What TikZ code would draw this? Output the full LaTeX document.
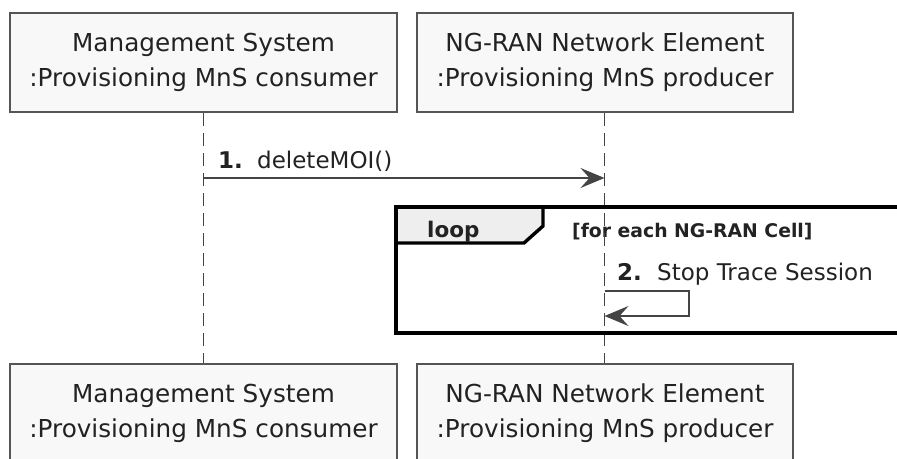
\documentclass[tikz,border=0pt]{standalone}
\usepackage{fontspec}
\setmainfont{DejaVu Sans}
\usetikzlibrary{arrows.meta}
\definecolor{boxfill}{HTML}{F8F8F8}
\definecolor{boxdraw}{HTML}{555555}
\definecolor{tabfill}{HTML}{EEEEEE}
\definecolor{txt}{HTML}{222222}
\definecolor{msgline}{HTML}{444444}
\tikzset{
  partbox/.style={draw=boxdraw, fill=boxfill, line width=2pt, align=center,
    text=txt, font=\fontsize{24.7}{35}\selectfont, inner sep=0pt},
  lifeline/.style={draw=msgline, line width=1.6pt, dash pattern=on 13pt off 7pt},
  msg/.style={draw=msgline, line width=1.6pt, -{Stealth[length=24pt,width=20pt,inset=9pt]}},
  msgtext/.style={text=txt, font=\fontsize{23}{27}\selectfont, inner sep=0pt, anchor=base west},
  msgnum/.style={text=txt, font=\fontsize{23}{27}\selectfont\bfseries, inner sep=0pt, anchor=base west},
  framebox/.style={draw=black, line width=3.4pt},
}
\begin{document}
\begin{tikzpicture}[x=1pt,y=-1pt]
\clip (0,0) rectangle (897,458);
\fill[white] (0,0) rectangle (897,458);

% participants
\node[partbox, minimum width=387pt, minimum height=99pt] (ms) at (203.5,62.5)
  {Management System\\:Provisioning MnS consumer};
\node[partbox, minimum width=376pt, minimum height=99pt] (ne) at (605,62.5)
  {NG-RAN Network Element\\:Provisioning MnS producer};
\node[partbox, minimum width=387pt, minimum height=99pt] (msb) at (203.5,413)
  {Management System\\:Provisioning MnS consumer};
\node[partbox, minimum width=376pt, minimum height=99pt] (neb) at (605,413)
  {NG-RAN Network Element\\:Provisioning MnS producer};

% loop tab background
\path[fill=tabfill] (396,207) -- (543,207) -- (543,226) -- (524,243) -- (396,243) -- cycle;

% loop frame texts
\node[text=txt, font=\fontsize{21.5}{25}\selectfont\bfseries, inner sep=0pt, anchor=base west] (looplbl) at (427,237) {loop};
\node[text=txt, font=\fontsize{18.8}{22}\selectfont\bfseries, inner sep=0pt, anchor=base west] (cond) at (572,237) {[for each NG-RAN Cell]};

% lifelines
\coordinate (msx) at (203.5,0);
\coordinate (nex) at (604.5,0);
\draw[lifeline] (ms.south -| msx) -- (msb.north -| msx);
\draw[lifeline] (ne.south -| nex) -- (neb.north -| nex);

% loop frame
\draw[framebox] (543,207) -- (543,226) -- (524,243) -- (396,243);
\draw[framebox] (905,207) -- (396,207) -- (396,333) -- (905,333);

% message 1
\coordinate (m1a) at (203.5,178);
\coordinate (m1b) at (604.5,178);
\draw[msg] (m1a) -- (m1b);
\node[msgnum] (n1) at (218,168) {1.};
\node[msgtext] (t1) at (257,168) {deleteMOI()};

% message 2 (self)
\coordinate (m2a) at (604.5,291);
\coordinate (m2r1) at (689,291);
\coordinate (m2r2) at (689,316);
\coordinate (m2b) at (604.5,316);
\draw[msg] (m2a) -- (m2r1) -- (m2r2) -- (m2b);
\node[msgnum] (n2) at (617,280) {2.};
\node[msgtext] (t2) at (657,280) {Stop Trace Session};
\end{tikzpicture}
\end{document}
